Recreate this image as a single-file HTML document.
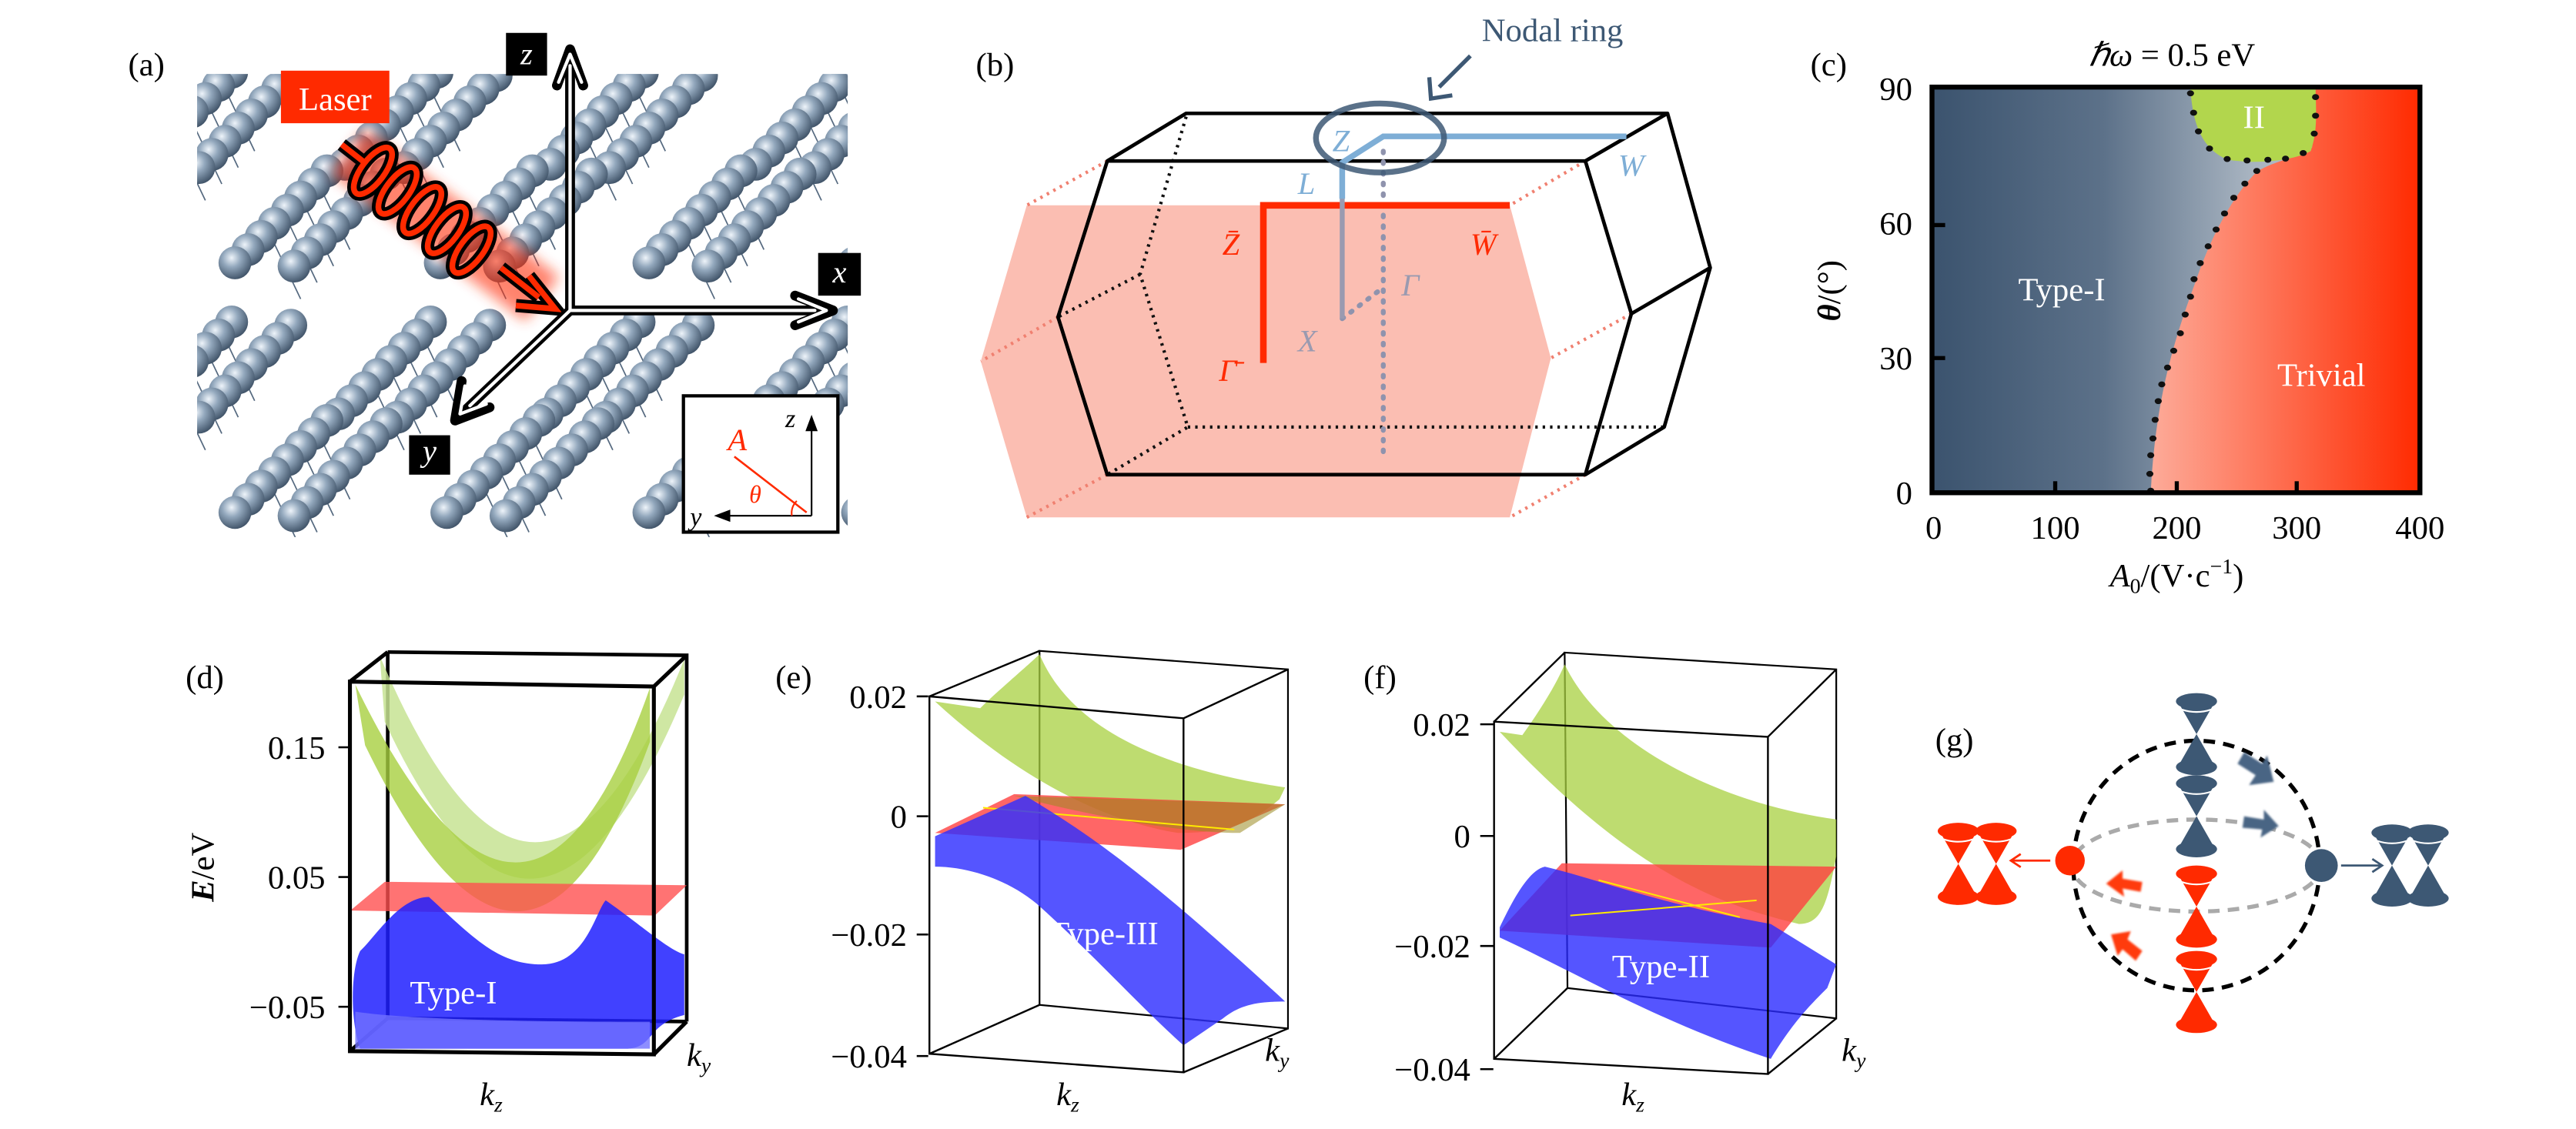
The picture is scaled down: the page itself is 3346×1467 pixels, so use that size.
<!DOCTYPE html>
<html><head><meta charset="utf-8"><style>
html,body{margin:0;padding:0;background:#fff}
svg{display:block}
text{font-family:"Liberation Serif",serif}
</style></head><body>
<svg width="3346" height="1467" viewBox="0 0 1568 687.4" xmlns="http://www.w3.org/2000/svg">
<defs>
<radialGradient id="sph" cx="0.4" cy="0.35" r="0.7">
<stop offset="0" stop-color="#eef4fa"/><stop offset="0.4" stop-color="#93a8bd"/><stop offset="1" stop-color="#3a4d62"/></radialGradient>
<g id="rod">
<circle cx="56" cy="-56" r="10" fill="url(#sph)"/><circle cx="48" cy="-48" r="10" fill="url(#sph)"/>
<circle cx="40" cy="-40" r="10" fill="url(#sph)"/><circle cx="32" cy="-32" r="10" fill="url(#sph)"/>
<circle cx="24" cy="-24" r="10" fill="url(#sph)"/><circle cx="16" cy="-16" r="10" fill="url(#sph)"/>
<circle cx="8" cy="-8" r="10" fill="url(#sph)"/><circle cx="0" cy="0" r="10" fill="url(#sph)"/>
</g>
<g id="unit">
<g stroke="#55697f" stroke-width="0.8"><line x1="20" y1="-20" x2="40" y2="22"/><line x1="30" y1="-30" x2="50" y2="12"/><line x1="40" y1="-40" x2="60" y2="2"/><line x1="50" y1="-50" x2="70" y2="-8"/></g>
<use href="#rod"/><use href="#rod" x="36" y="2"/></g>
<clipPath id="cpa"><rect x="120" y="45" width="396" height="282"/></clipPath>
<linearGradient id="bgc" x1="0" x2="1" y1="0" y2="0">
<stop offset="0" stop-color="#3b536e"/><stop offset="0.35" stop-color="#5c7189"/><stop offset="0.65" stop-color="#a7b3c0"/><stop offset="1" stop-color="#c9d1d9"/></linearGradient>
<linearGradient id="rdc" x1="0" x2="1" y1="0" y2="0">
<stop offset="0" stop-color="#fdab99"/><stop offset="1" stop-color="#ff2a00"/></linearGradient>
<filter id="glow" x="-50%" y="-50%" width="200%" height="200%"><feGaussianBlur stdDeviation="4"/></filter>
<filter id="bl" x="-50%" y="-50%" width="200%" height="200%"><feGaussianBlur stdDeviation="0.6"/></filter>
<g id="coneB"><path d="M-12,0 L12,0 L0,21 L12,42 L-12,42 L0,21 Z" fill="#3d5874"/><ellipse cx="0" cy="1" rx="12.5" ry="5" fill="#3d5874"/><ellipse cx="0" cy="41" rx="12.5" ry="5" fill="#3d5874"/><path d="M-9,6 Q0,9 9,6" stroke="#fff" stroke-width="1" fill="none"/></g>
<g id="coneR"><path d="M-12,0 L12,0 L0,21 L12,42 L-12,42 L0,21 Z" fill="#ff2a00"/><ellipse cx="0" cy="1" rx="12.5" ry="5" fill="#ff2a00"/><ellipse cx="0" cy="41" rx="12.5" ry="5" fill="#ff2a00"/><path d="M-9,6 Q0,9 9,6" stroke="#fff" stroke-width="1" fill="none"/></g>
</defs>

<!-- ===== (a) ===== -->
<text x="78" y="46" font-size="20">(a)</text>
<g clip-path="url(#cpa)">
<use href="#unit" x="85" y="100"/><use href="#unit" x="210" y="100"/><use href="#unit" x="335" y="100"/><use href="#unit" x="460" y="100"/>
<use href="#unit" x="143" y="160"/><use href="#unit" x="268" y="160"/><use href="#unit" x="395" y="160"/><use href="#unit" x="520" y="160"/>
<use href="#unit" x="85" y="252"/><use href="#unit" x="206" y="252"/><use href="#unit" x="333" y="252"/><use href="#unit" x="460" y="252"/>
<use href="#unit" x="143" y="312"/><use href="#unit" x="272" y="312"/><use href="#unit" x="395" y="312"/><use href="#unit" x="522" y="312"/>
</g>
<!-- laser -->
<g>
<path d="M212,92 L330,182" stroke="#ff3010" stroke-width="34" filter="url(#glow)" opacity="0.6"/>
<g fill="none" stroke="#000" stroke-width="8">
<line x1="208" y1="88" x2="222" y2="99"/><line x1="305" y1="163" x2="328" y2="181"/>
<ellipse cx="227" cy="104" rx="7" ry="17" transform="rotate(37 227 104)"/>
<ellipse cx="242" cy="116" rx="7" ry="17" transform="rotate(37 242 116)"/>
<ellipse cx="257" cy="128" rx="7" ry="17" transform="rotate(37 257 128)"/>
<ellipse cx="272" cy="140" rx="7" ry="17" transform="rotate(37 272 140)"/>
<ellipse cx="287" cy="152" rx="7" ry="17" transform="rotate(37 287 152)"/>
<path d="M322,168 L338,188 L314,186"/>
</g>
<g fill="none" stroke="#ff2a00" stroke-width="3.5">
<line x1="208" y1="88" x2="222" y2="99"/><line x1="305" y1="163" x2="328" y2="181"/>
<ellipse cx="227" cy="104" rx="7" ry="17" transform="rotate(37 227 104)"/>
<ellipse cx="242" cy="116" rx="7" ry="17" transform="rotate(37 242 116)"/>
<ellipse cx="257" cy="128" rx="7" ry="17" transform="rotate(37 257 128)"/>
<ellipse cx="272" cy="140" rx="7" ry="17" transform="rotate(37 272 140)"/>
<ellipse cx="287" cy="152" rx="7" ry="17" transform="rotate(37 287 152)"/>
<path d="M322,168 L338,188 L314,186"/>
</g>
</g>
<rect x="171" y="43" width="66" height="32" fill="#ff2a00"/>
<text x="204" y="67" font-size="20" fill="#fff" text-anchor="middle">Laser</text>
<!-- axes -->
<g fill="none" stroke-linejoin="round" stroke-linecap="round">
<g stroke="#000" stroke-width="6">
<line x1="347" y1="189" x2="347" y2="36"/><line x1="347" y1="189" x2="500" y2="189"/><line x1="347" y1="189" x2="283" y2="250"/>
<path d="M339,52 L347,30 L355,52"/><path d="M484,180 L507,189 L484,198"/><path d="M281,232 L277,256 L298,248"/>
</g>
<g stroke="#fff" stroke-width="2">
<line x1="347" y1="189" x2="347" y2="40"/><line x1="347" y1="189" x2="496" y2="189"/><line x1="347" y1="189" x2="286" y2="247"/>
<path d="M340,50 L347,33 L354,50"/><path d="M486,182 L503,189 L486,196"/><path d="M283,235 L280,252 L296,246"/>
</g></g>
<rect x="308" y="20" width="25" height="26" fill="#000"/><text x="320.5" y="39" font-size="19" fill="#fff" font-style="italic" text-anchor="middle">z</text>
<rect x="498" y="154" width="26" height="26" fill="#000"/><text x="511" y="172" font-size="19" fill="#fff" font-style="italic" text-anchor="middle">x</text>
<rect x="249" y="265" width="25" height="24" fill="#000"/><text x="261.5" y="281" font-size="19" fill="#fff" font-style="italic" text-anchor="middle">y</text>
<!-- inset -->
<rect x="416" y="241" width="94" height="83" fill="#fff" stroke="#000" stroke-width="2"/>
<g stroke="#000" stroke-width="1" fill="#000">
<line x1="494" y1="314" x2="494" y2="260"/><path d="M491,262 L494,254 L497,262 Z"/>
<line x1="494" y1="314" x2="442" y2="314"/><path d="M444,311 L436,314 L444,317 Z"/></g>
<line x1="447" y1="278" x2="491" y2="312" stroke="#ff2a00" stroke-width="1.2"/>
<path d="M485,305 A10,10 0 0 0 482,314" stroke="#ff2a00" fill="none" stroke-width="1"/>
<text x="478" y="260" font-size="16" font-style="italic">z</text>
<text x="420" y="320" font-size="16" font-style="italic">y</text>
<text x="443" y="274" font-size="19" font-style="italic" fill="#ff2a00">A</text>
<text x="456" y="306" font-size="15" font-style="italic" fill="#ff2a00">θ</text>

<!-- ===== (b) ===== -->
<text x="594" y="46" font-size="20">(b)</text>
<polygon points="625,125 919,125 944,218 919,315 625,315 597,220" fill="#fbb7aa" opacity="0.9"/>
<g stroke="#f08070" stroke-width="2" stroke-dasharray="1.5 3" fill="none">
<line x1="674" y1="98" x2="625" y2="125"/><line x1="644" y1="193" x2="597" y2="220"/><line x1="674" y1="289" x2="625" y2="315"/>
<line x1="965" y1="98" x2="919" y2="125"/><line x1="993" y1="191" x2="944" y2="218"/><line x1="965" y1="289" x2="919" y2="315"/></g>
<g stroke="#111" stroke-width="2" stroke-dasharray="1.5 3" fill="none">
<polyline points="722,71 694,167 723,260 674,289"/><line x1="694" y1="167" x2="644" y2="193"/><line x1="723" y1="260" x2="1013" y2="260"/></g>
<g stroke="#000" stroke-width="2.2" fill="none" stroke-linejoin="round">
<polyline points="674,98 722,69 1015,69 965,98 674,98 644,193 674,289 965,289 1013,260 1041,163 1015,69"/>
<polyline points="965,98 993,191 965,289"/><line x1="993" y1="191" x2="1041" y2="163"/></g>
<line x1="842" y1="92" x2="842" y2="280" stroke="#8f93ad" stroke-width="3" stroke-dasharray="1 5.5" stroke-linecap="round"/>
<line x1="817" y1="194" x2="842" y2="175" stroke="#8f93ad" stroke-width="3" stroke-dasharray="1 5.5" stroke-linecap="round"/>
<polyline points="769,221 769,125 919,125" fill="none" stroke="#ff2a00" stroke-width="4"/>
<line x1="817" y1="194" x2="817" y2="120" stroke="#9a9ab0" stroke-width="3"/>
<polyline points="817,121 817,99 842,83 990,83" fill="none" stroke="#7eaed6" stroke-width="3.5"/>
<ellipse cx="840" cy="84" rx="39" ry="21" fill="none" stroke="#3d5874" stroke-width="3.5" opacity="0.85"/>
<text x="945" y="25" font-size="20" fill="#3d5874" text-anchor="middle">Nodal ring</text>
<line x1="895" y1="34" x2="876" y2="53" stroke="#3d5874" stroke-width="2.5"/>
<path d="M870,47 L871,60 L884,58" fill="none" stroke="#3d5874" stroke-width="2.5"/>
<g font-style="italic" font-size="19">
<text x="811" y="92" fill="#7eaed6">Z</text><text x="790" y="118" fill="#7eaed6">L</text><text x="985" y="107" fill="#7eaed6">W</text>
<text x="744" y="155" fill="#ff2a00">Z̄</text><text x="895" y="155" fill="#ff2a00">W̄</text><text x="742" y="232" fill="#ff2a00">Γ̄</text>
<text x="790" y="214" fill="#9a9ab0">X</text><text x="853" y="180" fill="#9a9ab0">Γ</text></g>

<!-- ===== (c) ===== -->
<text x="1102" y="46" font-size="20">(c)</text>
<text x="1322" y="40" font-size="20" text-anchor="middle"><tspan font-style="italic">ℏω</tspan> = 0.5 eV</text>
<rect x="1176" y="53" width="297" height="247" fill="url(#bgc)"/>
<g transform="translate(1077.8,0) scale(0.269,0.2272)">
<path d="M860,1320 C870,1100 900,950 960,760 C1000,620 1050,520 1100,460 C1140,430 1200,420 1225,395 L1233,240 L1470,240 L1470,1320 Z" fill="url(#rdc)"/>
<path d="M950,240 C955,330 975,400 1035,428 C1100,440 1180,432 1222,405 C1238,350 1234,300 1233,240 Z" fill="#b2d64d"/>
<g fill="#111">
<circle cx="860" cy="1315" r="8"/><circle cx="858" cy="1270" r="8"/><circle cx="860" cy="1220" r="8"/><circle cx="865" cy="1175" r="8"/><circle cx="870" cy="1125" r="8"/><circle cx="877" cy="1075" r="8"/><circle cx="885" cy="1030" r="8"/><circle cx="898" cy="985" r="8"/><circle cx="912" cy="940" r="8"/><circle cx="927" cy="893" r="8"/><circle cx="938" cy="843" r="8"/><circle cx="950" cy="795" r="8"/><circle cx="958" cy="748" r="8"/><circle cx="972" cy="705" r="8"/><circle cx="990" cy="660" r="8"/><circle cx="1008" cy="615" r="8"/><circle cx="1027" cy="572" r="8"/><circle cx="1048" cy="530" r="8"/><circle cx="1073" cy="492" r="8"/><circle cx="1100" cy="458" r="8"/><circle cx="1125" cy="428" r="8"/>
<circle cx="1165" cy="425" r="8"/><circle cx="1205" cy="410" r="8"/><circle cx="1230" cy="358" r="8"/><circle cx="1233" cy="310" r="8"/><circle cx="1233" cy="260" r="8"/><circle cx="950" cy="250" r="8"/><circle cx="957" cy="302" r="8"/><circle cx="968" cy="352" r="8"/><circle cx="993" cy="398" r="8"/><circle cx="1033" cy="426" r="8"/><circle cx="1078" cy="430" r="8"/></g>
</g>
<rect x="1176" y="53" width="297" height="247" fill="none" stroke="#000" stroke-width="3"/>
<g stroke="#000" stroke-width="2.5">
<line x1="1251" y1="300" x2="1251" y2="293"/><line x1="1325" y1="300" x2="1325" y2="293"/><line x1="1398" y1="300" x2="1398" y2="293"/>
<line x1="1176" y1="218" x2="1184" y2="218"/><line x1="1176" y1="137" x2="1184" y2="137"/></g>
<g font-size="20" text-anchor="end"><text x="1164" y="61">90</text><text x="1164" y="143">60</text><text x="1164" y="225">30</text><text x="1164" y="307">0</text></g>
<g font-size="20" text-anchor="middle"><text x="1177" y="328">0</text><text x="1251" y="328">100</text><text x="1325" y="328">200</text><text x="1398" y="328">300</text><text x="1473" y="328">400</text></g>
<text x="1325" y="357" font-size="20" text-anchor="middle"><tspan font-style="italic">A</tspan><tspan font-size="13" dy="4">0</tspan><tspan dy="-4">/(V·c</tspan><tspan font-size="13" dy="-8">−1</tspan><tspan dy="8">)</tspan></text>
<text transform="translate(1120,177) rotate(-90)" font-size="20" text-anchor="middle"><tspan font-style="italic" font-weight="bold">θ</tspan>/(°)</text>
<text x="1255" y="183" font-size="20" fill="#fff" text-anchor="middle">Type-I</text>
<text x="1413" y="235" font-size="20" fill="#fff" text-anchor="middle">Trivial</text>
<text x="1372" y="78" font-size="20" fill="#fff" text-anchor="middle">II</text>

<!-- ===== (d) ===== -->
<text x="113" y="419" font-size="20">(d)</text>
<g stroke="#000" stroke-width="2.2" fill="none"><polyline points="236,397 418,399 418,622"/><line x1="236" y1="397" x2="236" y2="620"/><line x1="236" y1="620" x2="418" y2="622"/><line x1="213" y1="640" x2="236" y2="620"/></g>
<g transform="translate(93.7,365.5) scale(0.2989,0.2053)">
<path d="M460,165 Q780,1265 1080,175 L1080,280 Q780,1330 470,360 Z" fill="#c7e393" opacity="0.85"/>
<path d="M410,250 Q760,1300 1010,260 L1010,420 Q760,1420 430,430 Z" fill="#a8d040" opacity="0.8"/>
<polygon points="400,920 470,835 1085,845 1020,935" fill="#ff5050" opacity="0.8"/>
<path d="M420,1040 C450,1000 500,880 560,880 C650,1000 700,1080 790,1080 C880,1080 900,920 920,890 C980,950 1050,1040 1080,1050 L1080,1230 C1000,1260 1020,1330 960,1330 L420,1330 C400,1250 400,1100 420,1040 Z" fill="#2020ff" opacity="0.85"/>
<path d="M410,1220 C500,1240 700,1250 1010,1250 L1010,1330 L410,1330 Z" fill="#7070ff" opacity="0.8"/>
</g>
<g stroke="#000" stroke-width="2.4" fill="none"><polygon points="213,415 398,418 398,642 213,640"/><line x1="213" y1="415" x2="236" y2="397"/><line x1="398" y1="418" x2="418" y2="399"/><line x1="398" y1="642" x2="418" y2="622"/></g>
<g stroke="#000" stroke-width="1.2"><line x1="206" y1="455" x2="213" y2="455"/><line x1="206" y1="534" x2="213" y2="534"/><line x1="206" y1="613" x2="213" y2="613"/></g>
<g font-size="20" text-anchor="end"><text x="198" y="462">0.15</text><text x="198" y="541">0.05</text><text x="198" y="620">−0.05</text></g>
<text transform="translate(130,528) rotate(-90)" font-size="20" text-anchor="middle"><tspan font-style="italic" font-weight="bold">E</tspan>/eV</text>
<text x="276" y="611" font-size="20" fill="#fff" text-anchor="middle">Type-I</text>
<text x="418" y="649" font-size="20" font-style="italic">k<tspan font-size="13" dy="4">y</tspan></text>
<text x="292" y="673" font-size="20" font-style="italic">k<tspan font-size="13" dy="4">z</tspan></text>

<!-- ===== (e) ===== -->
<text x="472" y="419" font-size="20">(e)</text>
<g transform="translate(562.3,365.5) scale(0.3437,0.2053)">
<path d="M205,150 L645,205 L645,1270 L205,1200 Z M205,150 L205,1200" fill="none" stroke="#000" stroke-width="2.2" vector-effect="non-scaling-stroke"/>
<path d="M20,300 L100,320 C130,270 180,200 205,160 C260,380 420,500 640,555 L630,590 C580,660 540,690 450,690 C300,650 150,500 20,300 Z" fill="#a8d040" opacity="0.75"/>
<polygon points="20,690 160,575 640,605 455,740" fill="#ff4040" opacity="0.8"/>
<path d="M160,580 L640,605 L560,690 C450,690 300,640 160,580 Z" fill="#9a8a20" opacity="0.55"/>
<line x1="105" y1="615" x2="550" y2="680" stroke="#ffea00" stroke-width="2" vector-effect="non-scaling-stroke"/>
<path d="M20,700 L180,580 C300,700 400,820 640,1190 C590,1190 560,1200 530,1240 L460,1320 C380,1200 300,1050 200,900 C150,830 80,790 20,790 Z" fill="#3030ff" opacity="0.82"/>
<path d="M10,285 L460,350 L460,1400 L10,1345 Z M10,285 L205,150 M460,350 L645,205 M460,1400 L645,1270 M10,1345 L205,1200" fill="none" stroke="#000" stroke-width="2.4" vector-effect="non-scaling-stroke"/>
</g>
<g stroke="#000" stroke-width="1.2"><line x1="558" y1="424" x2="565" y2="424"/><line x1="558" y1="497" x2="565" y2="497"/><line x1="558" y1="569" x2="565" y2="569"/><line x1="558" y1="643" x2="565" y2="643"/></g>
<g font-size="20" text-anchor="end"><text x="552" y="431">0.02</text><text x="552" y="504">0</text><text x="552" y="576">−0.02</text><text x="552" y="650">−0.04</text></g>
<text x="672" y="575" font-size="20" fill="#fff" text-anchor="middle">Type-III</text>
<text x="770" y="646" font-size="20" font-style="italic">k<tspan font-size="13" dy="4">y</tspan></text>
<text x="643" y="673" font-size="20" font-style="italic">k<tspan font-size="13" dy="4">z</tspan></text>

<!-- ===== (f) ===== -->
<text x="830" y="419" font-size="20">(f)</text>
<g transform="translate(562.3,365.5) scale(0.3437,0.2053)">
<path d="M1135,155 L1616,205 L1616,1240 L1140,1150 Z" fill="none" stroke="#000" stroke-width="2.2" vector-effect="non-scaling-stroke"/>
<path d="M1020,390 L1060,400 C1090,330 1120,250 1135,190 C1200,420 1400,600 1616,650 L1616,760 C1600,900 1590,960 1550,960 C1400,900 1250,800 1020,390 Z" fill="#a8d040" opacity="0.75"/>
<polygon points="1020,980 1130,780 1616,790 1500,1030" fill="#ff4040" opacity="0.8"/>
<path d="M1020,970 C1040,900 1070,800 1100,790 C1200,830 1300,900 1500,960 L1616,1080 L1600,1150 C1570,1200 1540,1250 1500,1360 C1300,1250 1150,1100 1020,1000 Z" fill="#2a2aff" opacity="0.8"/>
<line x1="1195" y1="830" x2="1445" y2="940" stroke="#ffea00" stroke-width="2" vector-effect="non-scaling-stroke"/>
<line x1="1145" y1="935" x2="1475" y2="890" stroke="#ffea00" stroke-width="2" vector-effect="non-scaling-stroke"/>
<path d="M1010,360 L1495,405 L1495,1405 L1010,1360 Z M1010,360 L1135,155 M1495,405 L1616,205 M1495,1405 L1616,1240 M1010,1360 L1140,1150" fill="none" stroke="#000" stroke-width="2.4" vector-effect="non-scaling-stroke"/>
</g>
<g stroke="#000" stroke-width="1.2"><line x1="901" y1="441" x2="909" y2="441"/><line x1="901" y1="509" x2="909" y2="509"/><line x1="901" y1="576" x2="909" y2="576"/><line x1="901" y1="651" x2="909" y2="651"/></g>
<g font-size="20" text-anchor="end"><text x="895" y="448">0.02</text><text x="895" y="516">0</text><text x="895" y="583">−0.02</text><text x="895" y="658">−0.04</text></g>
<text x="1011" y="595" font-size="20" fill="#fff" text-anchor="middle">Type-II</text>
<text x="1121" y="646" font-size="20" font-style="italic">k<tspan font-size="13" dy="4">y</tspan></text>
<text x="987" y="673" font-size="20" font-style="italic">k<tspan font-size="13" dy="4">z</tspan></text>

<!-- ===== (g) ===== -->
<text x="1178" y="457" font-size="20">(g)</text>
<ellipse cx="1337" cy="527" rx="75" ry="76" fill="none" stroke="#000" stroke-width="2.5" stroke-dasharray="7 5"/>
<ellipse cx="1337" cy="527" rx="76" ry="28" fill="none" stroke="#aaa" stroke-width="2.5" stroke-dasharray="7 5"/>
<use href="#coneB" x="1337" y="426"/><use href="#coneB" x="1337" y="476"/>
<use href="#coneR" x="1337" y="531"/><use href="#coneR" x="1337" y="583"/>
<use href="#coneR" x="1192" y="505"/><use href="#coneR" x="1215" y="505"/>
<use href="#coneB" x="1456" y="506"/><use href="#coneB" x="1478" y="506"/>
<circle cx="1260" cy="524" r="9" fill="#ff2a00"/>
<circle cx="1413" cy="527" r="10" fill="#3d5874"/>
<g stroke="#ff2a00" stroke-width="1.3" fill="none"><line x1="1248" y1="524" x2="1224" y2="524"/><path d="M1230,520 L1224,524 L1230,528"/></g>
<g stroke="#3d5874" stroke-width="1.3" fill="none"><line x1="1425" y1="527" x2="1450" y2="527"/><path d="M1444,523 L1450,527 L1444,531"/></g>
<g filter="url(#bl)">
<path d="M1366,458 L1377,465 L1380,460 L1384,476 L1369,478 L1373,472 L1362,465 Z" fill="#4a6584"/>
<path d="M1366,497 L1378,499 L1378,493 L1387,503 L1376,510 L1377,505 L1365,504 Z" fill="#4a6584"/>
<path d="M1303,543 L1292,541 L1293,546 L1282,538 L1292,530 L1292,535 L1304,537 Z" fill="#ff3a10"/>
<path d="M1300,585 L1292,578 L1289,582 L1285,569 L1297,567 L1295,572 L1304,579 Z" fill="#ff3a10"/>
</g>
</svg>
</body></html>
